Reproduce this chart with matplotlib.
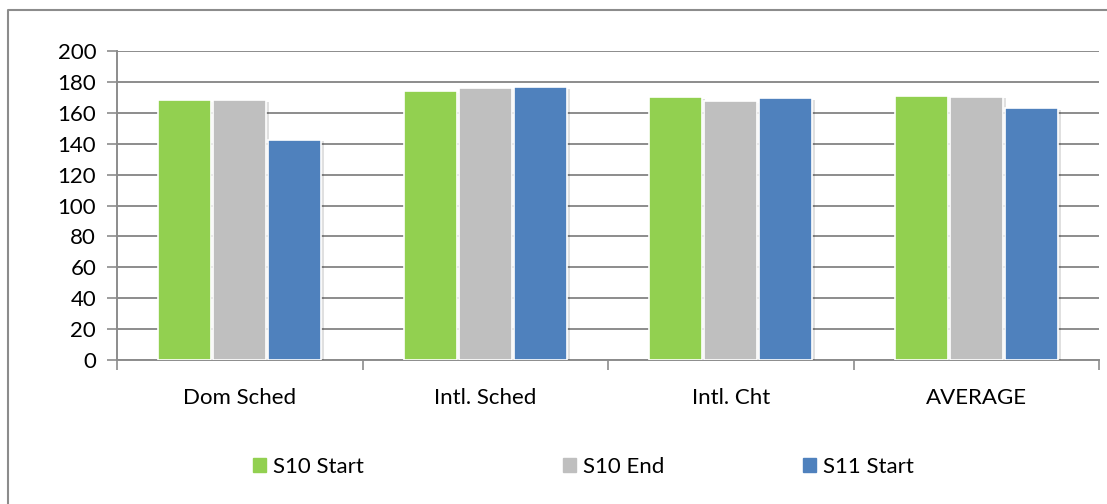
import numpy as np
import matplotlib
matplotlib.use('Agg')
from matplotlib import pyplot as plt
from matplotlib.lines import Line2D
from matplotlib.patches import Patch
import matplotlib.patheffects as pe

categories = ['Dom Sched', 'Intl. Sched', 'Intl. Cht', 'AVERAGE']
s10_start = [168, 174, 170, 171]
s10_end = [168, 176, 167.5, 170.5]
s11_start = [142.5, 176.5, 169.5, 163]
series_names = ['S10 Start', 'S10 End', 'S11 Start']
colors = ['#92D050', '#BFBFBF', '#4F81BD']

plt.rcParams['font.family'] = ['Lato', 'DejaVu Sans']
grid_col = '#8C8C8C'
fs = 16

fig = plt.figure(figsize=(11.07, 5.04), dpi=100)
ax = fig.add_axes([117/1107, 1-360/504, (1099-117)/1107, (360-51)/504])

x = np.arange(len(categories))
shadow = [pe.withSimplePatchShadow(offset=(2, -1), alpha=0.12, shadow_rgbFace='black')]
for j, vals in enumerate([s10_start, s10_end, s11_start]):
    ax.bar(x + (j-1)*0.224, vals, width=0.216, color=colors[j],
           edgecolor='white', linewidth=1.2, zorder=3, path_effects=shadow)

ax.set_ylim(0, 200)
ax.set_xlim(-0.5, 3.5)
ax.set_yticks(np.arange(0, 201, 20))
ax.yaxis.grid(True, color=grid_col, linewidth=1.4, zorder=0)
ax.tick_params(axis='y', length=7, color=grid_col, width=1.2, labelsize=fs, pad=8)
ax.set_xticks(x)
ax.set_xticklabels(categories)
ax.set_xticks(np.arange(-0.5, 3.6, 1), minor=True)
ax.tick_params(axis='x', which='major', length=0, labelsize=fs, pad=20)
ax.tick_params(axis='x', which='minor', length=7, color=grid_col, width=1.2)
for s in ['top', 'right']:
    ax.spines[s].set_visible(False)
for s in ['left', 'bottom']:
    ax.spines[s].set_color(grid_col)
    ax.spines[s].set_linewidth(1.4)
ax.set_axisbelow(True)

# legend entries, each placed on its own
legend_x = [253, 563, 803]
for name, col, lx in zip(series_names, colors, legend_x):
    lg = fig.legend(handles=[Patch(color=col, label=name)], loc='center left',
                    bbox_to_anchor=(lx/1107, 1-467/504), frameon=False,
                    fontsize=fs, handlelength=0.6, handleheight=0.6,
                    handletextpad=0.3, borderaxespad=0, borderpad=0)

# outer chart border (left and top only, cropped image)
fig.add_artist(Line2D([8/1107, 8/1107, 1], [0, 1-10/504, 1-10/504],
                      color='#8C8C8C', linewidth=1.5, transform=fig.transFigure))

fig.savefig('out.png', dpi=100)
